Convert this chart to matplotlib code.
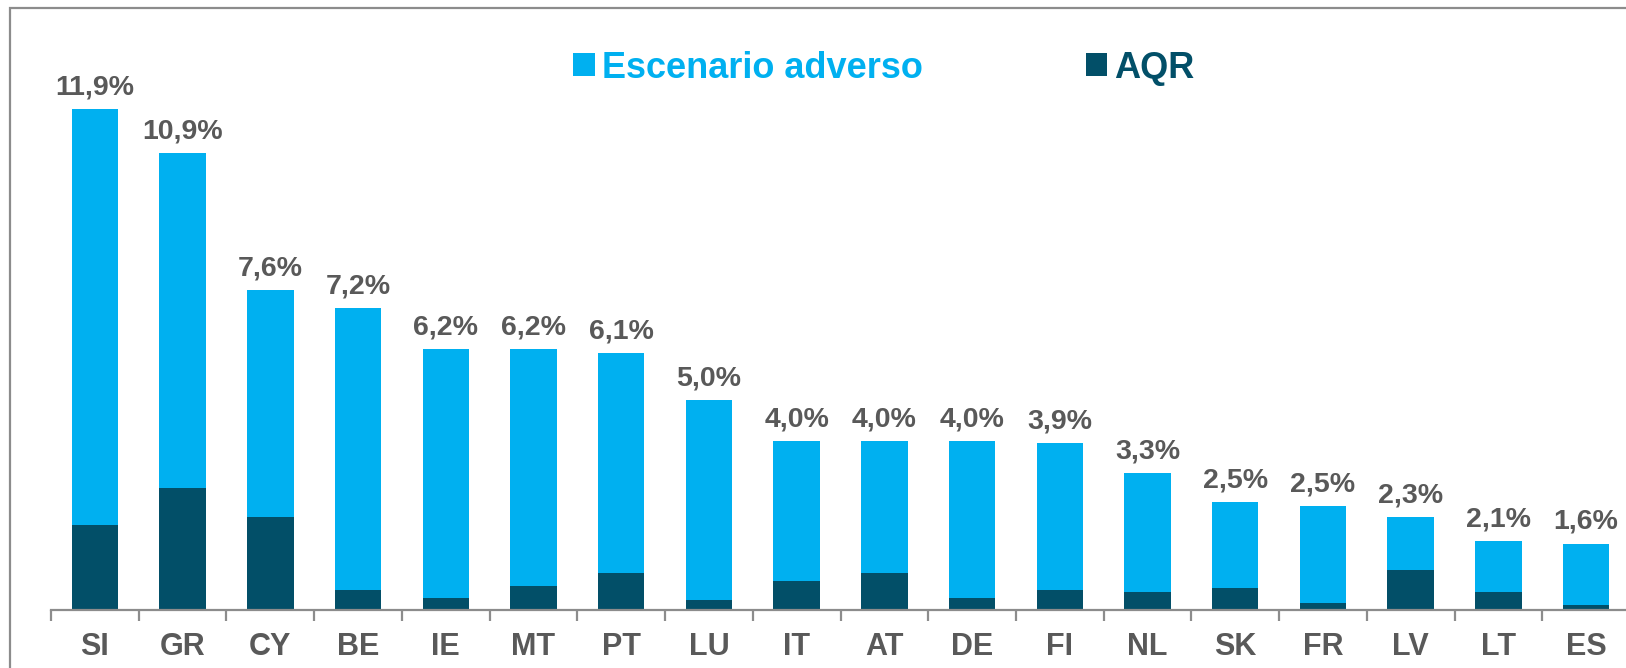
import matplotlib
matplotlib.use("Agg")
import matplotlib.pyplot as plt
from matplotlib.patches import Rectangle, Patch

plt.rcParams['font.family'] = ['Liberation Sans', 'DejaVu Sans']

countries = ["SI", "GR", "CY", "BE", "IE", "MT", "PT", "LU", "IT", "AT",
             "DE", "FI", "NL", "SK", "FR", "LV", "LT", "ES"]
aqr = [2.03, 2.90, 2.20, 0.48, 0.28, 0.57, 0.89, 0.23, 0.70, 0.89,
       0.28, 0.48, 0.43, 0.53, 0.17, 0.94, 0.43, 0.11]
adverso = [9.87, 7.95, 5.40, 6.69, 5.92, 5.63, 5.21, 4.77, 3.32, 3.13,
           3.74, 3.49, 2.82, 2.04, 2.30, 1.26, 1.20, 1.47]
labels = ["11,9%", "10,9%", "7,6%", "7,2%", "6,2%", "6,2%", "6,1%", "5,0%",
          "4,0%", "4,0%", "4,0%", "3,9%", "3,3%", "2,5%", "2,5%", "2,3%",
          "2,1%", "1,6%"]

C_LIGHT = "#00B0F0"
C_DARK = "#024F68"
C_TEXT = "#595959"
C_AXIS = "#8C8C8C"

W, H = 1626, 668
fig = plt.figure(figsize=(W / 100, H / 100), dpi=100)

# outer frame (partly cropped at right/bottom)
fig.patches.append(Rectangle((10 / W, -0.1), 1.2, 1 - 8 / H + 0.1,
                             transform=fig.transFigure, fill=False,
                             edgecolor=C_AXIS, linewidth=1.6))

ax = fig.add_axes([51 / W, 58 / H, (1630 - 51) / W, 505 / H])
x = list(range(len(countries)))
width = 0.53
ax.bar(x, aqr, width=width, color=C_DARK, zorder=2)
ax.bar(x, adverso, width=width, bottom=aqr, color=C_LIGHT, zorder=2)

for xi, a, b, lab in zip(x, aqr, adverso, labels):
    ax.annotate(lab, (xi, a + b), xytext=(0, 10.5), textcoords="offset points",
                ha="center", va="baseline", fontsize=20.5, fontweight="bold",
                color=C_TEXT)

ax.set_xlim(-0.5, len(countries) - 0.5)
ax.set_ylim(0, 12)
for s in ["top", "right", "left"]:
    ax.spines[s].set_visible(False)
ax.spines["bottom"].set_color(C_AXIS)
ax.spines["bottom"].set_linewidth(1.6)
ax.set_yticks([])
ax.set_xticks(x)
ax.set_xticklabels(countries, fontsize=22, fontweight="bold", color=C_TEXT)
ax.tick_params(axis="x", which="major", length=0, pad=16)
ax.set_xticks([i - 0.5 for i in range(len(countries) + 1)], minor=True)
ax.tick_params(axis="x", which="minor", length=8, width=1.6, color=C_AXIS,
               direction="out")

handles = [Patch(facecolor=C_LIGHT, edgecolor="none"),
           Patch(facecolor=C_DARK, edgecolor="none")]
leg = fig.legend(handles, ["Escenario adverso", "AQR"], loc="center",
                 bbox_to_anchor=(884 / W, 1 - 68 / H), ncol=2, frameon=False,
                 prop={"size": 26, "weight": "bold"}, handlelength=0.6,
                 handleheight=0.6, handletextpad=0.2, columnspacing=4.5)
for t, c in zip(leg.get_texts(), [C_LIGHT, C_DARK]):
    t.set_color(c)

fig.savefig("out.png", dpi=100)
